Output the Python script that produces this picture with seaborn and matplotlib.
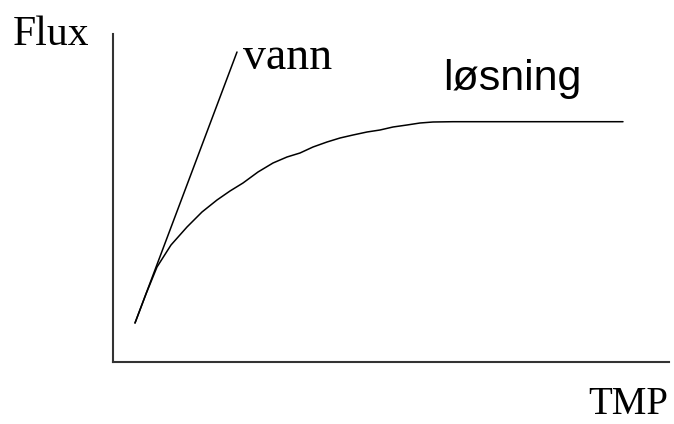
import matplotlib
matplotlib.use("Agg")
import matplotlib.pyplot as plt
import seaborn as sns
import pandas as pd

# Pure water: flux grows linearly with transmembrane pressure
vann_tmp = [22, 124]
vann_flux = [39, 310]

# Solution: flux levels off towards a limiting value
losning_tmp = [22, 33, 44, 58, 74, 89, 104, 117, 130, 145, 160, 174, 187, 200,
               214, 227, 240, 254, 267, 280, 294, 307, 320, 340, 380, 430, 510]
losning_flux = [39, 68, 95, 117, 135, 150, 162, 171, 179, 190, 199, 205, 209, 215,
                220, 224, 227, 230, 232, 235, 237, 239, 240, 240.3, 240.3, 240.3, 240.3]

x_label = "TMP"
y_label = "Flux"

sns.set_style("white")
plt.rcParams["text.color"] = "black"

fig = plt.figure(figsize=(6.74, 4.24), dpi=100)
ax = fig.add_axes([113 / 674, 62 / 424, 556 / 674, 328 / 424])

vann = pd.DataFrame({"tmp": vann_tmp, "flux": vann_flux})
losning = pd.DataFrame({"tmp": losning_tmp, "flux": losning_flux})

sns.lineplot(data=vann, x="tmp", y="flux", ax=ax, color="black", linewidth=1.1,
             sort=False, estimator=None)
sns.lineplot(data=losning, x="tmp", y="flux", ax=ax, color="black", linewidth=1.1,
             sort=False, estimator=None)

ax.set_xlim(0, 556)
ax.set_ylim(0, 328)
ax.set_xticks([])
ax.set_yticks([])
ax.set_xlabel("")
ax.set_ylabel("")
sns.despine(ax=ax)
for side in ("left", "bottom"):
    ax.spines[side].set_color("#333333")
    ax.spines[side].set_linewidth(1.5)

serif = ["Liberation Serif", "DejaVu Serif"]
sans = ["Liberation Sans", "DejaVu Sans"]

fig.text(13 / 674, (424 - 45) / 424, y_label, family=serif, fontsize=30,
         color="black", ha="left", va="baseline")
fig.text(588 / 674, (424 - 414) / 424, x_label, family=serif, fontsize=28,
         color="black", ha="left", va="baseline")
ax.text(243 - 113, 362 - 69, "vann", family=serif, fontsize=33,
        color="black", ha="left", va="baseline")
ax.text(443 - 113, 362 - 90, "løsning", family=sans, fontsize=31,
        color="black", ha="left", va="baseline")

fig.savefig("out.png", dpi=100)
